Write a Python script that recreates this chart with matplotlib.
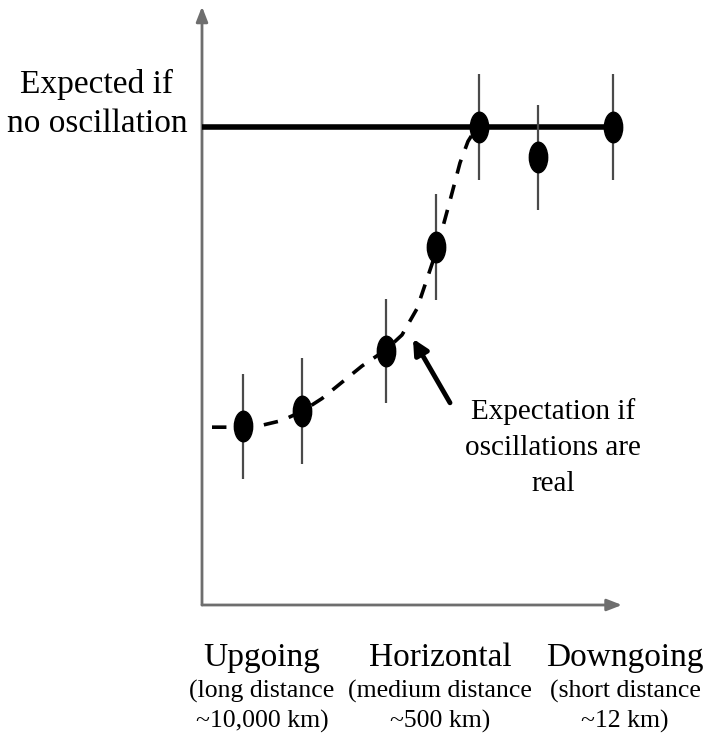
import matplotlib.pyplot as plt
import numpy as np
from matplotlib.path import Path
from matplotlib.transforms import Affine2D

# Measured ratios (observed / expected with no oscillation) vs. path category
x_pos = [0.41, 1.00, 1.84, 2.34, 2.77, 3.36, 4.11]
ratio = [0.374, 0.406, 0.531, 0.749, 1.000, 0.937, 1.000]
ratio_err = [0.110, 0.110, 0.109, 0.110, 0.110, 0.110, 0.110]

# Expected curve if oscillations are real
curve_x = [0.10, 0.25, 0.41, 0.60, 0.80, 1.00, 1.20, 1.40, 1.60, 1.84,
           2.00, 2.15, 2.34, 2.48, 2.58, 2.66, 2.72, 2.78]
curve_y = [0.372, 0.372, 0.372, 0.376, 0.386, 0.405, 0.432, 0.466, 0.500, 0.534,
           0.565, 0.620, 0.738, 0.846, 0.925, 0.970, 0.990, 0.998]

no_osc_level = 1.0

cat_x = [0.60, 2.38, 4.23]
cat_main = ["Upgoing", "Horizontal", "Downgoing"]
cat_sub1 = ["(long distance", "(medium distance", "(short distance"]
cat_sub2 = ["~10,000 km)", "~500 km)", "~12 km)"]

plt.rcParams['font.family'] = ['Liberation Serif', 'DejaVu Serif']

fig = plt.figure(figsize=(7.06, 7.33), dpi=100)
ax = fig.add_axes([0, 0, 1, 1])
ax.set_xlim(-2.02, 5.04)
ax.set_ylim(-0.2678, 1.2657)
ax.axis('off')

axis_col = '#6e6e6e'
# axes with arrowheads
ax.annotate('', xy=(0, 1.252), xytext=(0, 0),
            arrowprops=dict(arrowstyle='-|>,head_length=0.9,head_width=0.35',
                            color=axis_col, lw=2, shrinkA=0, shrinkB=0))
ax.annotate('', xy=(4.20, 0), xytext=(0, 0),
            arrowprops=dict(arrowstyle='-|>,head_length=0.9,head_width=0.35',
                            color=axis_col, lw=2, shrinkA=0, shrinkB=0))

# no-oscillation line
ax.plot([0, x_pos[-1]], [no_osc_level, no_osc_level], color='black', lw=4,
        solid_capstyle='butt', zorder=3)

# oscillation expectation
ax.plot(curve_x, curve_y, color='black', lw=2.6, dashes=(4, 3.2), zorder=3)

# data points with error bars
ax.errorbar(x_pos, ratio, yerr=ratio_err, fmt='none', ecolor='#4a4a4a',
            elinewidth=1.6, capsize=0, zorder=4)
ellipse = Path.unit_circle().transformed(Affine2D().scale(0.6, 1.0))
ax.plot(x_pos, ratio, linestyle='none', marker=ellipse, markersize=22,
        color='black', zorder=5)

ax.text(-1.05, 1.048, "Expected if\nno oscillation", ha='center', va='center',
        fontsize=24, linespacing=1.38)

ax.annotate('', xy=(2.11, 0.557), xytext=(2.48, 0.423),
            arrowprops=dict(arrowstyle='-|>,head_length=0.9,head_width=0.45',
                            color='black', lw=3.5, shrinkA=0, shrinkB=0))
ax.text(3.51, 0.330, "Expectation if\noscillations are\nreal", ha='center',
        va='center', fontsize=21, linespacing=1.5)

for cx, m, s1, s2 in zip(cat_x, cat_main, cat_sub1, cat_sub2):
    ax.text(cx, -0.110, m, ha='center', va='center', fontsize=24)
    ax.text(cx, -0.181, s1, ha='center', va='center', fontsize=18.5)
    ax.text(cx, -0.243, s2, ha='center', va='center', fontsize=18.5)

fig.savefig('out.png', dpi=100, facecolor='white')
